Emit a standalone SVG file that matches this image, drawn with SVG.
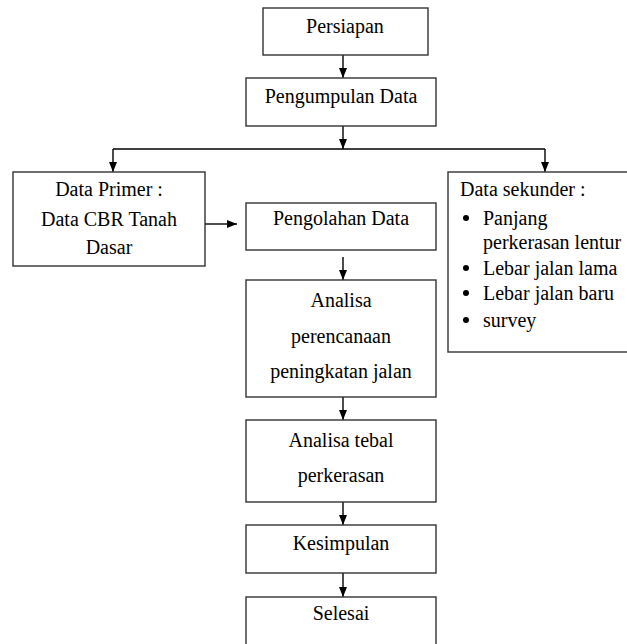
<svg xmlns="http://www.w3.org/2000/svg" width="627" height="644" viewBox="0 0 627 644">
<style>
.box{fill:#fff;stroke:#333;stroke-width:1.4}
.t{font-family:"Liberation Serif","Times New Roman",serif;font-size:20px;fill:#000}
.c{text-anchor:middle}
.ln{fill:none;stroke:#000;stroke-width:1.4}
.ar{marker-end:url(#ah)}
</style>
<defs>
<marker id="ah" markerUnits="userSpaceOnUse" markerWidth="10" markerHeight="10" viewBox="0 0 10 10" refX="10" refY="5" orient="auto">
<path d="M0,1 L10,5 L0,9 Z" fill="#000"/>
</marker>
</defs>
<rect width="627" height="644" fill="#fff"/>
<g id="connectors">
<line class="ln ar" x1="343" y1="55" x2="343" y2="78"/>
<line class="ln ar" x1="343" y1="126" x2="343" y2="149"/>
<line class="ln" x1="113" y1="149" x2="545" y2="149"/>
<line class="ln ar" x1="113" y1="149" x2="113" y2="172"/>
<line class="ln ar" x1="545" y1="149" x2="545" y2="172"/>
<line class="ln ar" x1="205" y1="224" x2="237" y2="224"/>
<line class="ln ar" x1="343" y1="257" x2="343" y2="280"/>
<line class="ln ar" x1="343" y1="397" x2="343" y2="420"/>
<line class="ln ar" x1="343" y1="502" x2="343" y2="525"/>
<line class="ln ar" x1="343" y1="573" x2="343" y2="597"/>
</g>
<g id="persiapan">
<rect class="box" x="263" y="8" width="165" height="47"/>
<text class="t c" x="345" y="33">Persiapan</text>
</g>
<g id="pengumpulan">
<rect class="box" x="246" y="78" width="190" height="48"/>
<text class="t c" x="341" y="103">Pengumpulan Data</text>
</g>
<g id="data-primer">
<rect class="box" x="13" y="172" width="192" height="94"/>
<text class="t c" x="109" y="196">Data Primer :</text>
<text class="t c" x="109" y="226">Data CBR Tanah</text>
<text class="t c" x="109" y="254">Dasar</text>
</g>
<g id="pengolahan">
<rect class="box" x="246" y="203" width="190" height="47"/>
<text class="t c" x="341" y="225">Pengolahan Data</text>
</g>
<g id="data-sekunder">
<rect class="box" x="448" y="172" width="200" height="180"/>
<text class="t" x="460" y="196">Data sekunder :</text>
<circle cx="466" cy="218" r="3"/>
<text class="t" x="483" y="225">Panjang</text>
<text class="t" x="483" y="249">perkerasan lentur</text>
<circle cx="466" cy="268" r="3"/>
<text class="t" x="483" y="275">Lebar jalan lama</text>
<circle cx="466" cy="293" r="3"/>
<text class="t" x="483" y="300">Lebar jalan baru</text>
<circle cx="466" cy="320" r="3"/>
<text class="t" x="483" y="327">survey</text>
</g>
<g id="analisa">
<rect class="box" x="246" y="280" width="190" height="117"/>
<text class="t c" x="341" y="307">Analisa</text>
<text class="t c" x="341" y="343">perencanaan</text>
<text class="t c" x="341" y="378">peningkatan jalan</text>
</g>
<g id="analisa-tebal">
<rect class="box" x="246" y="420" width="190" height="82"/>
<text class="t c" x="341" y="447">Analisa tebal</text>
<text class="t c" x="341" y="482">perkerasan</text>
</g>
<g id="kesimpulan">
<rect class="box" x="246" y="525" width="190" height="48"/>
<text class="t c" x="341" y="550">Kesimpulan</text>
</g>
<g id="selesai">
<rect class="box" x="246" y="597" width="190" height="60"/>
<text class="t c" x="341" y="620">Selesai</text>
</g>
</svg>
